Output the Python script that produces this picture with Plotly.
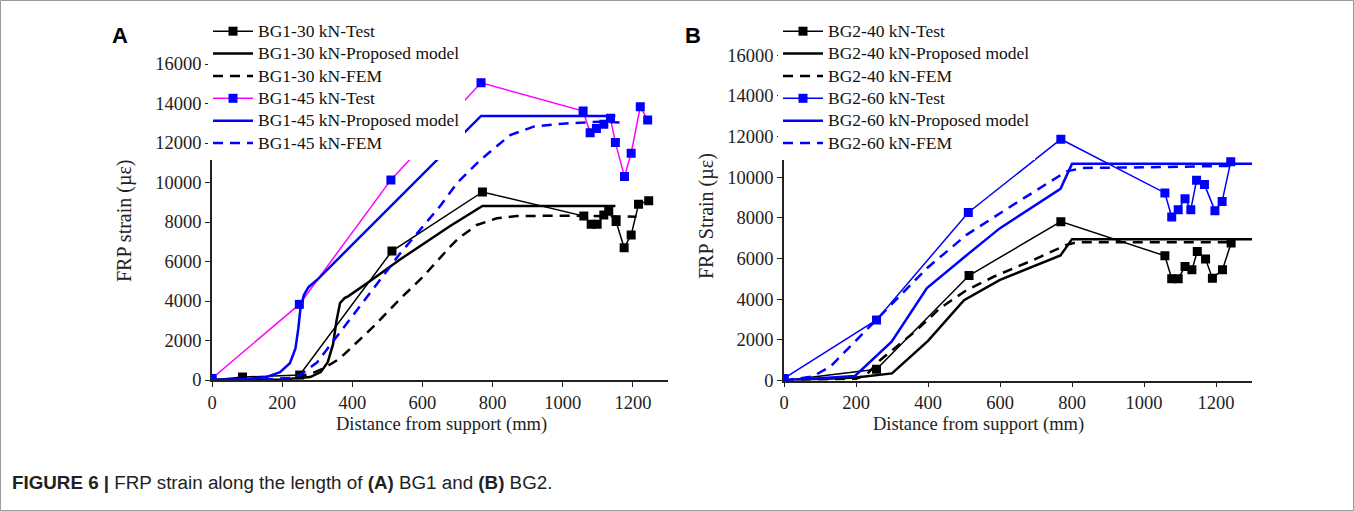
import plotly.graph_objects as go

W, H = 1354, 511

# ---------------- Panel A (BG1) ----------------
a30_test_x = [0, 87, 250, 513, 771, 1060, 1081, 1098, 1117, 1131, 1152, 1175, 1195, 1216, 1245]
a30_test_y = [0, 150, 250, 6530, 9520, 8300, 7880, 7880, 8350, 8540, 8020, 6700, 7340, 8900, 9080]
a30_model_x = [0, 200, 280, 310, 330, 345, 355, 365, 378, 389, 450, 536, 679, 771, 1150]
a30_model_y = [0, 30, 150, 400, 900, 1800, 3000, 3900, 4150, 4250, 5000, 6100, 7800, 8810, 8810]
a30_fem_x = [0, 200, 280, 320, 365, 460, 536, 600, 679, 703, 755, 812, 869, 1000, 1210]
a30_fem_y = [0, 20, 300, 600, 1100, 2700, 4100, 5200, 6750, 7175, 7850, 8190, 8300, 8320, 8270]

a45_test_x = [0, 249, 510, 767, 1058, 1078, 1096, 1117, 1136, 1150, 1176, 1195, 1221, 1242]
a45_test_y = [80, 3830, 10130, 15050, 13620, 12520, 12740, 12950, 13250, 12020, 10300, 11480, 13840, 13170]
a45_model_x = [0, 100, 156, 194, 222, 238, 246, 252, 262, 275, 299, 527, 727, 767, 1150]
a45_model_y = [0, 50, 150, 400, 850, 1600, 2600, 3600, 4300, 4700, 5060, 9110, 12660, 13370, 13370]
a45_fem_x = [0, 150, 220, 251, 300, 536, 650, 700, 765, 850, 917, 1000, 1107, 1165]
a45_fem_y = [0, 20, 100, 250, 900, 6400, 8800, 10000, 11140, 12400, 12830, 12980, 13080, 13030]

# ---------------- Panel B (BG2) ----------------
b40_test_x = [0, 257, 514, 769, 1058, 1077, 1095, 1114, 1133, 1148, 1171, 1190, 1218, 1242]
b40_test_y = [0, 550, 5160, 7810, 6130, 5000, 5000, 5600, 5440, 6340, 5970, 5030, 5440, 6760]
b40_model_x = [0, 200, 300, 400, 500, 600, 768, 800, 1300]
b40_model_y = [0, 150, 350, 1950, 3950, 4950, 6150, 6950, 6950]
b40_fem_x = [0, 200, 230, 267, 369, 433, 508, 582, 693, 785, 815, 1000, 1240]
b40_fem_y = [0, 80, 300, 1000, 2480, 3550, 4450, 5100, 5930, 6670, 6800, 6800, 6800]

b60_test_x = [0, 257, 512, 769, 1058, 1077, 1095, 1114, 1130, 1146, 1168, 1197, 1217, 1241]
b60_test_y = [100, 2980, 8260, 11860, 9220, 8040, 8400, 8940, 8400, 9840, 9630, 8350, 8800, 10760]
b60_model_x = [0, 197, 299, 397, 503, 600, 768, 800, 1300]
b60_model_y = [0, 220, 1910, 4540, 6100, 7490, 9420, 10650, 10650]
b60_fem_x = [0, 80, 130, 220, 304, 397, 507, 637, 785, 830, 1000, 1240]
b60_fem_y = [0, 200, 700, 2320, 3880, 5520, 7160, 8640, 10280, 10450, 10480, 10550]

x_ticks = [0, 200, 400, 600, 800, 1000, 1200]
y_ticks = [0, 2000, 4000, 6000, 8000, 10000, 12000, 14000, 16000]

SERIF = "Liberation Serif, Times New Roman, serif"
SANS = "Liberation Sans, Arial, sans-serif"
BLACK = "#000000"
BLUE = "#0000FF"
MAGENTA = "#FF00FF"
DASH = "10px,7px"
LEG_TEXT = 17.5   # rendered legend text size
LEG_ROW = 14.9    # legend font size used for row spacing


def px(x):
    return x / W


def py(y):
    return 1 - y / H


def lname(s):
    return '<span style="font-size:%spx">%s</span>' % (LEG_TEXT, s)


fig = go.Figure()


def add(x, y, name, color, kind, xa, ya, legend, mcolor=None):
    common = dict(x=x, y=y, name=lname(name), xaxis=xa, yaxis=ya, legend=legend)
    if kind == "test":
        fig.add_trace(go.Scatter(
            mode="lines+markers", line=dict(color=color, width=1.5),
            marker=dict(symbol="square", size=9, color=mcolor or color, line=dict(width=0)), **common))
    elif kind == "model":
        fig.add_trace(go.Scatter(mode="lines", line=dict(color=color, width=2.5), **common))
    else:
        fig.add_trace(go.Scatter(mode="lines", line=dict(color=color, width=2.5, dash=DASH), **common))


add(a30_test_x, a30_test_y, "BG1-30 kN-Test", BLACK, "test", "x", "y", "legend")
add(a30_model_x, a30_model_y, "BG1-30 kN-Proposed model", BLACK, "model", "x", "y", "legend")
add(a30_fem_x, a30_fem_y, "BG1-30 kN-FEM", BLACK, "fem", "x", "y", "legend")
add(a45_test_x, a45_test_y, "BG1-45 kN-Test", MAGENTA, "test", "x", "y", "legend", mcolor=BLUE)
add(a45_model_x, a45_model_y, "BG1-45 kN-Proposed model", BLUE, "model", "x", "y", "legend")
add(a45_fem_x, a45_fem_y, "BG1-45 kN-FEM", BLUE, "fem", "x", "y", "legend")

add(b40_test_x, b40_test_y, "BG2-40 kN-Test", BLACK, "test", "x2", "y2", "legend2")
add(b40_model_x, b40_model_y, "BG2-40 kN-Proposed model", BLACK, "model", "x2", "y2", "legend2")
add(b40_fem_x, b40_fem_y, "BG2-40 kN-FEM", BLACK, "fem", "x2", "y2", "legend2")
add(b60_test_x, b60_test_y, "BG2-60 kN-Test", BLUE, "test", "x2", "y2", "legend2")
add(b60_model_x, b60_model_y, "BG2-60 kN-Proposed model", BLUE, "model", "x2", "y2", "legend2")
add(b60_fem_x, b60_fem_y, "BG2-60 kN-FEM", BLUE, "fem", "x2", "y2", "legend2")

axis_common = dict(
    showgrid=False, zeroline=False, showline=True, linecolor="#222", linewidth=1.5,
    ticks="outside", ticklen=5, tickwidth=1.2, tickcolor="#222", mirror=False,
    tickformat="d", tickfont=dict(family=SERIF, size=18.5, color="#222"), automargin=False,
)

fig.update_layout(
    width=W, height=H,
    margin=dict(l=0, r=0, t=0, b=0),
    paper_bgcolor="white", plot_bgcolor="white",
    xaxis=dict(domain=[px(212), px(668)], range=[0, 1300], tickvals=x_ticks, anchor="y", **axis_common),
    yaxis=dict(domain=[py(380), py(44.25)], range=[0, 17000], tickvals=y_ticks, anchor="x", **axis_common),
    xaxis2=dict(domain=[px(784), px(1252)], range=[0, 1300], tickvals=x_ticks, anchor="y2", **axis_common),
    yaxis2=dict(domain=[py(380.5), py(34.7)], range=[0, 17000], tickvals=y_ticks, anchor="x2", **axis_common),
    legend=dict(x=px(208), y=py(15), xanchor="left", yanchor="top", bgcolor="white",
                borderwidth=0, itemwidth=40, tracegroupgap=0,
                font=dict(family=SERIF, size=LEG_ROW, color="#111")),
    legend2=dict(x=px(778), y=py(15), xanchor="left", yanchor="top", bgcolor="white",
                 borderwidth=0, itemwidth=40, tracegroupgap=0,
                 font=dict(family=SERIF, size=LEG_ROW, color="#111")),
    showlegend=True,
)

annotations = [
    dict(text="<b>A</b>", x=px(120), y=py(35), font=dict(family=SANS, size=22, color="black")),
    dict(text="<b>B</b>", x=px(693), y=py(35), font=dict(family=SANS, size=22, color="black")),
    dict(text="FRP strain (µε)", x=px(125), y=py(221), textangle=-90,
         font=dict(family=SERIF, size=20, color="#222")),
    dict(text="FRP Strain (µε)", x=px(706), y=py(216), textangle=-90,
         font=dict(family=SERIF, size=20, color="#222")),
    dict(text="Distance from support (mm)", x=px(441.5), y=py(424),
         font=dict(family=SERIF, size=18.5, color="#222")),
    dict(text="Distance from support (mm)", x=px(979), y=py(424),
         font=dict(family=SERIF, size=18.5, color="#222")),
]
for a in annotations:
    a.update(xref="paper", yref="paper", showarrow=False, xanchor="center", yanchor="middle")
annotations.append(dict(
    text="<b>FIGURE 6 |</b> FRP strain along the length of <b>(A)</b> BG1 and <b>(B)</b> BG2.",
    x=px(10), y=py(482), xref="paper", yref="paper", showarrow=False,
    xanchor="left", yanchor="middle",
    font=dict(family=SANS, size=18.8, color="#222")))
fig.update_layout(annotations=annotations)

fig.add_shape(type="rect", xref="paper", yref="paper",
              x0=px(0.5), x1=px(W - 0.5), y0=py(H - 0.5), y1=py(0.5),
              line=dict(color="#9a9a9a", width=1), fillcolor="rgba(0,0,0,0)", layer="below")

fig.write_html("out.html", config={"displayModeBar": False},
               post_script="document.body.style.margin='0px';")
